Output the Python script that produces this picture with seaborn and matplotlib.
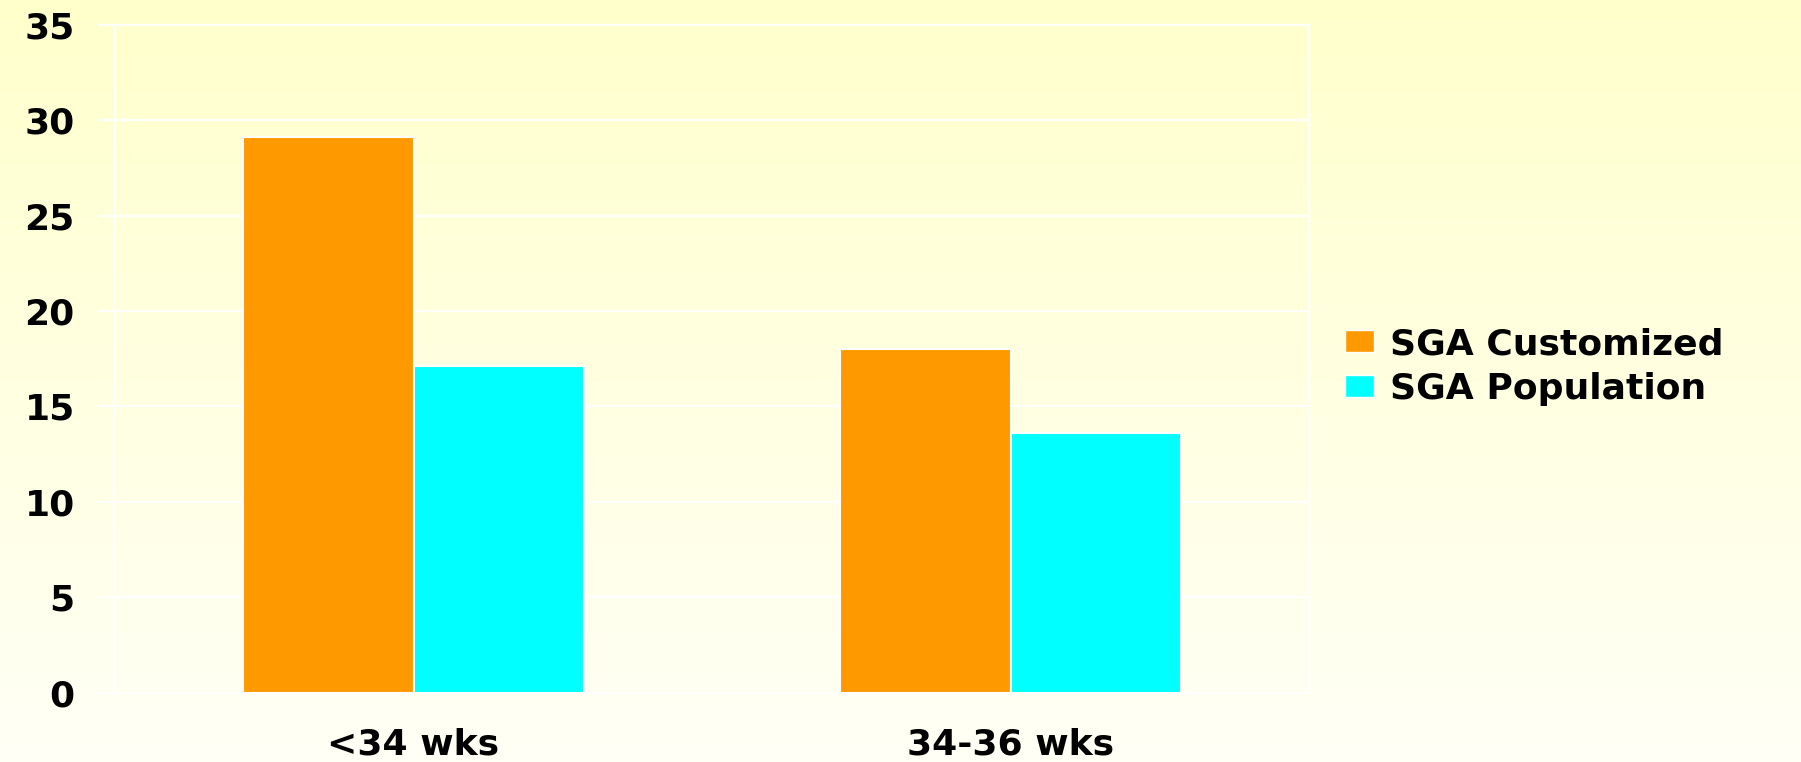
import numpy as np
import pandas as pd
import matplotlib
matplotlib.use("Agg")
import matplotlib.pyplot as plt
import seaborn as sns
from matplotlib.patches import Patch

categories = ["<34 wks", "34-36 wks"]
series_names = ["SGA Customized", "SGA Population"]
customized = [29.1, 18.0]
population = [17.1, 13.6]
yticks = [0, 5, 10, 15, 20, 25, 30, 35]
colors = ["#FF9900", "#00FFFF"]

df = pd.DataFrame({
    "group": categories * 2,
    "series": [series_names[0]] * 2 + [series_names[1]] * 2,
    "value": customized + population,
})

sns.set_theme(style="white")
plt.rcParams["font.family"] = ["DejaVu Sans"]
plt.rcParams["font.weight"] = "bold"
plt.rcParams["text.color"] = "black"

FS = 26
W, H = 1801, 762
fig = plt.figure(figsize=(W / 100, H / 100), dpi=100)

# gradient background
bg = fig.add_axes([0, 0, 1, 1], zorder=0)
top = np.array([255, 255, 204]) / 255
bot = np.array([255, 255, 246]) / 255
t = np.linspace(0, 1, 256)[:, None]
grad = (top[None, :] * (1 - t) + bot[None, :] * t)[:, None, :]
bg.imshow(grad, aspect="auto", extent=[0, 1, 0, 1])
bg.set_axis_off()

left, right, ytop, ybot = 115, 1309, 24.7, 692.7
ax = fig.add_axes([left / W, (H - ybot) / H, (right - left) / W, (ybot - ytop) / H], zorder=1)
ax.patch.set_alpha(0)

sns.barplot(data=df, x="group", y="value", hue="series", palette=colors,
            saturation=1, width=0.57, edgecolor="white", linewidth=1.5,
            ax=ax, zorder=3)

ax.set_xlim(-0.5, 1.5)
ax.set_ylim(0, 35)
ax.set_yticks(yticks)
ax.set_yticklabels([str(v) for v in yticks], fontsize=FS, fontweight="bold")
ax.set_xticks(range(len(categories)))
ax.set_xticklabels(categories, fontsize=FS, fontweight="bold")
ax.set_xlabel("")
ax.set_ylabel("")
ax.grid(axis="y", color="white", linewidth=1.5, zorder=1)
ax.set_axisbelow(True)
for s in ax.spines.values():
    s.set_color("white")
    s.set_linewidth(1.5)
ax.tick_params(axis="y", which="both", left=True, length=12, width=1.5,
               color="white", pad=17, labelcolor="black")
ax.tick_params(axis="x", length=0, pad=25, labelcolor="black")

if ax.get_legend() is not None:
    ax.get_legend().remove()
handles = [Patch(facecolor=c, edgecolor="white") for c in colors]
leg = fig.legend(handles, series_names, loc="upper left",
                 bbox_to_anchor=(1331 / W, 1 - 312.7 / H),
                 bbox_transform=fig.transFigure,
                 prop={"size": FS, "weight": "bold"},
                 frameon=True, fancybox=False, framealpha=0,
                 handlelength=0.78, handleheight=0.55, handletextpad=0.45,
                 labelspacing=0.3, borderpad=0.4, borderaxespad=0)
leg.get_frame().set_edgecolor("white")
leg.get_frame().set_linewidth(1.5)
for txt in leg.get_texts():
    txt.set_color("black")

fig.savefig("out.png", dpi=100)
